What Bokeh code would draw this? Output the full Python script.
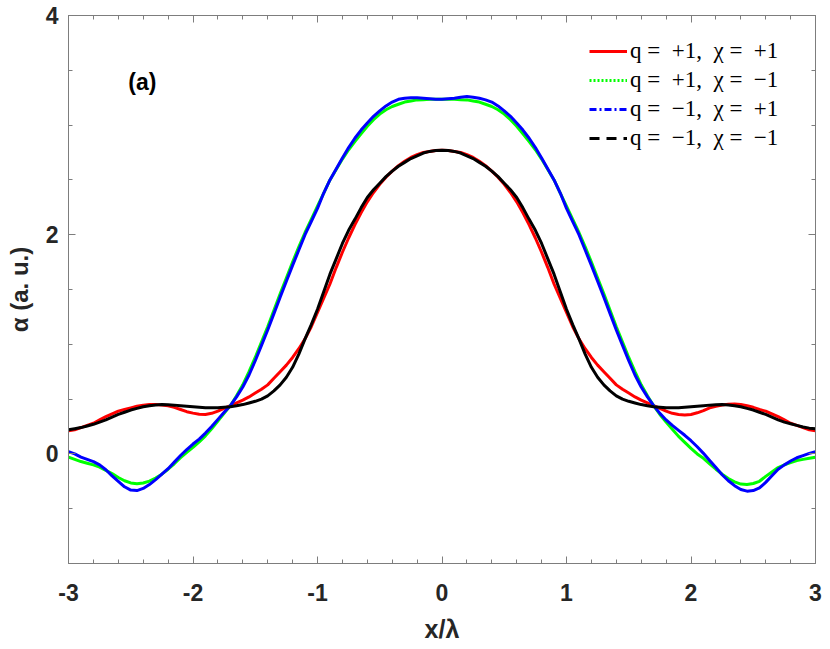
import numpy as np
from bokeh.plotting import figure
from bokeh.models import FixedTicker, LinearAxis, Label, Legend, LegendItem, Range1d
from bokeh.embed import file_html
from bokeh.resources import INLINE

# sample positions x/lambda (step 0.05 from -3 to 3)
x_vals = [round(-3.0 + 0.05 * i, 2) for i in range(121)]

# q=+1, chi=+1 (red)
alpha_p1_p1 = [0.21, 0.22, 0.24, 0.26, 0.28, 0.31, 0.34, 0.365, 0.39, 0.405,
               0.42, 0.435, 0.445, 0.45, 0.45, 0.447, 0.44, 0.425, 0.405, 0.385,
               0.372, 0.362, 0.36, 0.37, 0.39, 0.415, 0.44, 0.465, 0.49, 0.52,
               0.555, 0.59, 0.63, 0.69, 0.75, 0.81, 0.88, 0.96, 1.05, 1.16,
               1.29, 1.42, 1.55, 1.70, 1.84, 1.97, 2.09, 2.20, 2.30, 2.385,
               2.46, 2.525, 2.58, 2.63, 2.67, 2.705, 2.73, 2.75, 2.76, 2.768,
               2.77,
               2.768, 2.76, 2.75, 2.73, 2.705, 2.67, 2.63, 2.58, 2.525, 2.46,
               2.385, 2.30, 2.20, 2.09, 1.97, 1.84, 1.70, 1.55, 1.42, 1.29,
               1.16, 1.05, 0.96, 0.88, 0.81, 0.75, 0.69, 0.63, 0.59, 0.555,
               0.52, 0.49, 0.465, 0.44, 0.415, 0.39, 0.37, 0.36, 0.355, 0.36,
               0.375, 0.395, 0.42, 0.435, 0.447, 0.453, 0.455, 0.45, 0.44, 0.425,
               0.405, 0.39, 0.365, 0.34, 0.31, 0.28, 0.26, 0.24, 0.22, 0.21]
# q=+1, chi=-1 (green)
alpha_p1_m1 = [-0.03, -0.05, -0.07, -0.085, -0.10, -0.12, -0.15, -0.18, -0.215, -0.245,
               -0.265, -0.272, -0.265, -0.248, -0.22, -0.185, -0.14, -0.09, -0.035, 0.015,
               0.06, 0.11, 0.165, 0.23, 0.30, 0.37, 0.44, 0.53, 0.63, 0.75,
               0.88, 1.02, 1.16, 1.31, 1.46, 1.605, 1.75, 1.89, 2.02, 2.14,
               2.26, 2.38, 2.50, 2.595, 2.69, 2.775, 2.85, 2.92, 2.99, 3.05,
               3.10, 3.14, 3.17, 3.19, 3.21, 3.22, 3.23, 3.232, 3.235, 3.235,
               3.235,
               3.235, 3.235, 3.232, 3.23, 3.22, 3.21, 3.19, 3.17, 3.14, 3.10,
               3.05, 2.99, 2.92, 2.85, 2.775, 2.69, 2.595, 2.50, 2.38, 2.26,
               2.14, 2.02, 1.89, 1.75, 1.605, 1.46, 1.31, 1.16, 1.02, 0.88,
               0.75, 0.63, 0.53, 0.44, 0.36, 0.29, 0.225, 0.16, 0.105, 0.05,
               0.00, -0.04, -0.09, -0.14, -0.185, -0.225, -0.255, -0.275, -0.28, -0.27,
               -0.25, -0.205, -0.165, -0.125, -0.10, -0.08, -0.06, -0.05, -0.04, -0.03]
# q=-1, chi=+1 (blue)
alpha_m1_p1 = [0.02, 0.00, -0.03, -0.05, -0.07, -0.10, -0.145, -0.20, -0.25, -0.30,
               -0.33, -0.335, -0.315, -0.28, -0.235, -0.185, -0.135, -0.075, -0.015, 0.04,
               0.09, 0.135, 0.19, 0.25, 0.315, 0.38, 0.44, 0.52, 0.61, 0.72,
               0.85, 0.99, 1.13, 1.28, 1.43, 1.575, 1.72, 1.86, 2.00, 2.12,
               2.24, 2.38, 2.50, 2.60, 2.70, 2.795, 2.88, 2.955, 3.02, 3.08,
               3.13, 3.175, 3.21, 3.235, 3.245, 3.25, 3.25, 3.245, 3.24, 3.235,
               3.235,
               3.24, 3.245, 3.255, 3.26, 3.255, 3.245, 3.23, 3.21, 3.175, 3.13,
               3.08, 3.02, 2.955, 2.88, 2.795, 2.70, 2.60, 2.50, 2.38, 2.24,
               2.12, 2.00, 1.86, 1.72, 1.575, 1.43, 1.28, 1.13, 0.99, 0.85,
               0.72, 0.61, 0.52, 0.44, 0.37, 0.31, 0.26, 0.215, 0.17, 0.12,
               0.065, 0.005, -0.06, -0.125, -0.19, -0.245, -0.29, -0.325, -0.34, -0.335,
               -0.31, -0.26, -0.20, -0.14, -0.10, -0.065, -0.035, -0.015, 0.005, 0.02]
# q=-1, chi=-1 (black)
alpha_m1_m1 = [0.22, 0.23, 0.24, 0.255, 0.27, 0.29, 0.31, 0.335, 0.36, 0.38,
               0.40, 0.415, 0.43, 0.44, 0.447, 0.45, 0.448, 0.445, 0.44, 0.435,
               0.43, 0.425, 0.42, 0.42, 0.42, 0.425, 0.43, 0.44, 0.45, 0.465,
               0.48, 0.50, 0.53, 0.575, 0.63, 0.70, 0.79, 0.91, 1.05, 1.18,
               1.32, 1.48, 1.64, 1.78, 1.92, 2.04, 2.14, 2.245, 2.34, 2.41,
               2.47, 2.53, 2.58, 2.625, 2.66, 2.695, 2.72, 2.745, 2.76, 2.768,
               2.77,
               2.768, 2.76, 2.745, 2.72, 2.695, 2.66, 2.625, 2.58, 2.53, 2.47,
               2.41, 2.34, 2.245, 2.14, 2.04, 1.92, 1.78, 1.64, 1.48, 1.32,
               1.18, 1.05, 0.91, 0.79, 0.70, 0.63, 0.575, 0.53, 0.50, 0.48,
               0.465, 0.45, 0.44, 0.43, 0.425, 0.42, 0.42, 0.42, 0.425, 0.43,
               0.435, 0.44, 0.445, 0.448, 0.45, 0.447, 0.44, 0.43, 0.415, 0.40,
               0.38, 0.36, 0.335, 0.31, 0.29, 0.275, 0.26, 0.245, 0.235, 0.23]

legend_labels = ["q =\u2002+1,\u2002χ =\u2002+1", "q =\u2002+1,\u2002χ =\u2002−1",
                 "q =\u2002−1,\u2002χ =\u2002+1", "q =\u2002−1,\u2002χ =\u2002−1"]
x_ticks = [-3, -2, -1, 0, 1, 2, 3]
x_tick_labels = ["-3", "-2", "-1", "0", "1", "2", "3"]
y_ticks = [0, 2, 4]
x_label = "x/λ"
y_label = "α (a. u.)"
panel_tag = "(a)"

SANS = "Liberation Sans"
SERIF = "Liberation Serif"
TXT = "#262626"
AX = "#7d7d7d"

p = figure(frame_width=747, frame_height=548,
           min_border_left=68, min_border_right=14, min_border_top=15, min_border_bottom=85,
           x_range=Range1d(-3, 3), y_range=Range1d(-1, 4),
           output_backend="svg", toolbar_location=None)
p.background_fill_color = "white"
p.border_fill_color = "white"
p.outline_line_color = None
p.grid.visible = False

x_minor = [round(v, 1) for v in np.arange(-3.0, 3.001, 0.2)]
y_minor = [round(v, 1) for v in np.arange(-1.0, 4.001, 0.5)]

def style_axis(ax, ticks, minor, show_labels):
    ax.ticker = FixedTicker(ticks=ticks, minor_ticks=minor)
    ax.axis_line_color = AX
    ax.axis_line_width = 1
    ax.major_tick_line_color = AX
    ax.minor_tick_line_color = AX
    ax.major_tick_in = 7
    ax.major_tick_out = 0
    ax.minor_tick_in = 4
    ax.minor_tick_out = 0
    if show_labels:
        ax.major_label_text_font = SANS
        ax.major_label_text_font_style = "bold"
        ax.major_label_text_font_size = "23px"
        ax.major_label_text_color = TXT
        ax.axis_label_text_font = SANS
        ax.axis_label_text_font_style = "bold"
        ax.axis_label_text_color = TXT
    else:
        ax.major_label_text_font_size = "1px"
        ax.major_label_text_alpha = 0
        ax.major_label_standoff = 0

xa = p.xaxis[0]
ya = p.yaxis[0]
style_axis(xa, x_ticks, x_minor, True)
style_axis(ya, y_ticks, y_minor, True)
xa.major_label_overrides = {t: s for t, s in zip(x_ticks, x_tick_labels)}
xa.major_label_standoff = 20
xa.axis_label = x_label
xa.axis_label_text_font_size = "25px"
xa.axis_label_standoff = 11
ya.major_label_standoff = 10
ya.axis_label = y_label
ya.axis_label_text_font_size = "24px"
ya.axis_label_standoff = 10

top = LinearAxis()
right = LinearAxis()
style_axis(top, x_ticks, x_minor, False)
style_axis(right, y_ticks, y_minor, False)
p.add_layout(top, "above")
p.add_layout(right, "right")

colors = ["#ff0000", "#00ff00", "#0000ff", "#000000"]
dashes = ["solid", "2 2", "7 3 2 3", "10 7"]
series = [alpha_p1_p1, alpha_p1_m1, alpha_m1_p1, alpha_m1_m1]

for ys, c in zip(series, colors):
    p.line(x_vals, ys, line_color=c, line_width=3)

items = []
for lab, c, d, ys in zip(legend_labels, colors, dashes, series):
    # single-point line: draws nothing in the plot, only provides the legend glyph style
    r = p.line(x=[x_vals[0]], y=[ys[0]], line_color=c, line_width=3, line_dash=d)
    items.append(LegendItem(label=lab, renderers=[r]))

legend = Legend(items=items, location=(521, 412), padding=0,
                spacing=3, glyph_width=38, glyph_height=20, label_height=20,
                label_standoff=3, border_line_alpha=0, background_fill_alpha=0,
                label_text_font=SERIF, label_text_font_size="23px",
                label_text_color="black")
p.add_layout(legend)

p.add_layout(Label(x=-2.52, y=3.39, text=panel_tag, text_font=SANS, text_font_style="bold",
                   text_font_size="23px", text_baseline="middle", text_align="left",
                   text_color="black"))

open("out.html", "w").write(file_html(p, INLINE))
